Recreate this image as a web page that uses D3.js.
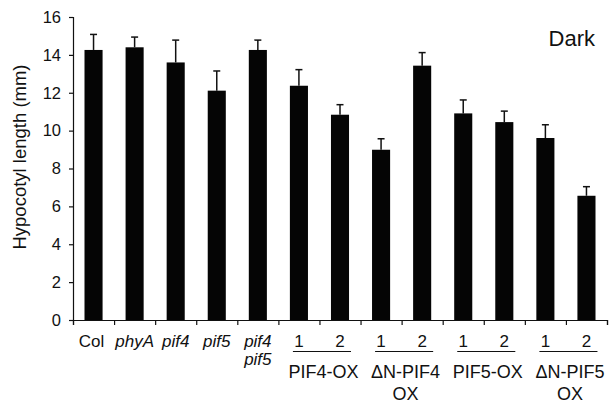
<!DOCTYPE html>
<html>
<head>
<meta charset="utf-8">
<script src="https://cdn.jsdelivr.net/npm/d3@7"></script>
<style>
  body { margin: 0; background: #fff; }
  text { font-family: "Liberation Sans", Arial, sans-serif; fill: #111; }
</style>
</head>
<body>
<div id="chart"></div>
<script>
// hypocotyl length in the dark, mean and upper error (mm)
var categories = ["Col", "phyA", "pif4", "pif5", "pif4 pif5", "1", "2", "1", "2", "1", "2", "1", "2"];
var means = [14.26, 14.4, 13.6, 12.11, 14.26, 12.37, 10.84, 8.99, 13.43, 10.91, 10.45, 9.61, 6.56];
var errors = [0.82, 0.54, 1.18, 1.04, 0.52, 0.85, 0.53, 0.58, 0.69, 0.71, 0.58, 0.70, 0.48];
var italicNames = ["phyA", "pif4", "pif5", "pif4 pif5"];
var groupNames = [["PIF4-OX"], ["ΔN-PIF4", "OX"], ["PIF5-OX"], ["ΔN-PIF5", "OX"]];
var groupStart = [5, 7, 9, 11];
var yTicks = [0, 2, 4, 6, 8, 10, 12, 14, 16];

var width = 609, height = 411;
var plotLeft = 73, plotRight = 607, plotTop = 17, plotBottom = 320;

var svg = d3.select('#chart').append('svg')
  .attr('width', width)
  .attr('height', height);

var idx = d3.range(categories.length);
// band scale for bars
var x = d3.scaleBand().domain(idx).range([plotLeft, plotRight])
  .paddingInner(0.56).paddingOuter(0.28);
// linear scale for the boundary ticks
var xEdge = d3.scaleLinear().domain([0, categories.length]).range([plotLeft, plotRight]);
var y = d3.scaleLinear().domain([0, 16]).range([plotBottom, plotTop]);
var cx = function (i) { return x(i) + x.bandwidth() / 2; };

//bars
svg.selectAll('rect.bar')
  .data(idx)
  .enter().append('rect')
  .attr('class', 'bar')
  .attr('x', function (i) { return x(i); })
  .attr('width', x.bandwidth())
  .attr('y', function (i) { return y(means[i]); })
  .attr('height', function (i) { return y(0) - y(means[i]); })
  .style('fill', '#050505');

//error bars
var err = svg.selectAll('g.err').data(idx).enter().append('g').attr('class', 'err');
err.append('line')
  .attr('x1', cx).attr('x2', cx)
  .attr('y1', function (i) { return y(means[i]); })
  .attr('y2', function (i) { return y(means[i] + errors[i]); })
  .style('stroke', '#111').style('stroke-width', 1.5);
err.append('line')
  .attr('x1', function (i) { return cx(i) - 3.5; })
  .attr('x2', function (i) { return cx(i) + 3.5; })
  .attr('y1', function (i) { return y(means[i] + errors[i]); })
  .attr('y2', function (i) { return y(means[i] + errors[i]); })
  .style('stroke', '#111').style('stroke-width', 1.5);

//y axis
var yAxis = svg.append('g')
  .attr('transform', 'translate(' + plotLeft + ',0)')
  .call(d3.axisLeft(y).tickValues(yTicks).tickSize(4).tickPadding(8));
yAxis.selectAll('text').style('font-size', '16.5px');

//x axis, ticks between bars
var xAxis = svg.append('g')
  .attr('transform', 'translate(0,' + plotBottom + ')')
  .call(d3.axisBottom(xEdge).tickValues(d3.range(categories.length + 1)).tickSize(5).tickFormat(''));
svg.selectAll('.domain, .tick line').style('stroke', '#111').style('stroke-width', 1.2);

//category labels
var lab = svg.selectAll('text.cat')
  .data(idx)
  .enter().append('text')
  .attr('class', 'cat')
  .attr('text-anchor', 'middle')
  .attr('y', 347)
  .style('font-size', '17px')
  .style('font-style', function (i) { return italicNames.indexOf(categories[i]) >= 0 ? 'italic' : 'normal'; });
lab.selectAll('tspan')
  .data(function (i) { return categories[i].split(' ').map(function (w) { return { w: w, i: i }; }); })
  .enter().append('tspan')
  .attr('x', function (d) { return cx(d.i) - (d.i === 0 ? 2 : 0); })
  .attr('dy', function (d, k) { return k === 0 ? 0 : 18; })
  .text(function (d) { return d.w; });

//group lines and labels
groupStart.forEach(function (s, g) {
  svg.append('line')
    .attr('x1', cx(s) - 6).attr('x2', cx(s + 1) + 11)
    .attr('y1', 351.5).attr('y2', 351.5)
    .style('stroke', '#111').style('stroke-width', 1.2);
  var t = svg.append('text')
    .attr('text-anchor', 'middle')
    .attr('y', 378)
    .style('font-size', '18px');
  groupNames[g].forEach(function (w, k) {
    t.append('tspan')
      .attr('x', (cx(s) + cx(s + 1)) / 2 + 4)
      .attr('dy', k === 0 ? 0 : 22)
      .text(w);
  });
});

//y title
svg.append('text')
  .attr('transform', 'translate(26,' + 157 + ') rotate(-90)')
  .attr('text-anchor', 'middle')
  .style('font-size', '18.5px')
  .text('Hypocotyl length (mm)');

//condition label
svg.append('text')
  .attr('x', 595).attr('y', 45.5)
  .attr('text-anchor', 'end')
  .style('font-size', '22px')
  .text('Dark');
</script>
</body>
</html>
